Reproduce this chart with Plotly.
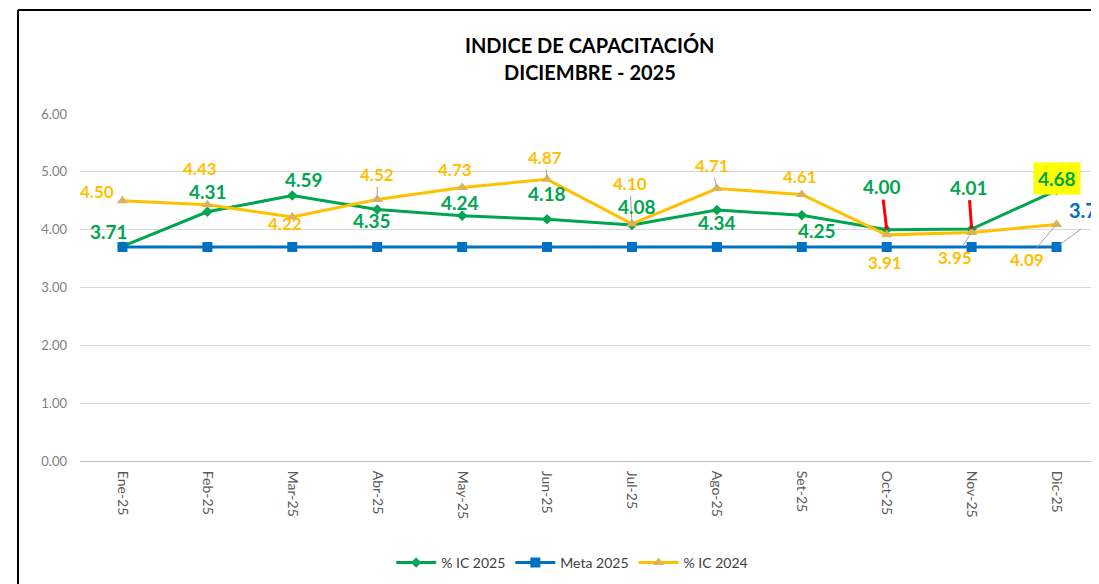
import plotly.graph_objects as go

months = ["Ene-25", "Feb-25", "Mar-25", "Abr-25", "May-25", "Jun-25",
          "Jul-25", "Ago-25", "Set-25", "Oct-25", "Nov-25", "Dic-25"]
ic_2025 = [3.71, 4.31, 4.59, 4.35, 4.24, 4.18, 4.08, 4.34, 4.25, 4.00, 4.01, 4.68]
meta_2025 = [3.7] * 12
ic_2024 = [4.50, 4.43, 4.22, 4.52, 4.73, 4.87, 4.10, 4.71, 4.61, 3.91, 3.95, 4.09]
y_ticks = [0, 1, 2, 3, 4, 5, 6]

GREEN = "#00A550"
BLUE = "#0070C0"
YELLOW = "#FFC000"
FONT = "Lato"

# label offsets in pixels (style, not data)
g_off = [(-13, -15), (1, -20), (12, -16), (-5, 11), (-2, -13), (0, -26),
         (5, -19), (0, 12), (15, 15), (-5, -43), (-3, -42), (0, -12)]
y_off = [(-25, -9), (-7, -36), (-7, 7), (0, -25), (-7, -18), (-2, -22),
         (-2, -40), (-5, -23), (-2, -18), (-2, 28), (-17, 25), (-30, 35)]
y_lead = [False, False, False, True, False, True, True, True, False, False, True, True]

# page offset of the figure (browser body margin)
OFF = 8
W, H = 1099 - OFF, 584 - OFF
L, R, T, B = 80 - OFF, 0, 114 - OFF, 123

fig = go.Figure()
fig.add_trace(go.Scatter(x=months, y=ic_2025, name="% IC 2025", mode="lines+markers",
                         line=dict(color=GREEN, width=3),
                         marker=dict(symbol="diamond", size=8, color=GREEN)))
fig.add_trace(go.Scatter(x=months, y=meta_2025, name="Meta 2025", mode="lines+markers",
                         line=dict(color=BLUE, width=3),
                         marker=dict(symbol="square", size=10, color=BLUE)))
fig.add_trace(go.Scatter(x=months, y=ic_2024, name="% IC 2024", mode="lines+markers",
                         line=dict(color=YELLOW, width=3),
                         marker=dict(symbol="triangle-up", size=10, color="#D9B25A")))

ann = []
for i, (m, v) in enumerate(zip(months, ic_2024)):
    dx, dy = y_off[i]
    ann.append(dict(x=m, y=v, text=f"{v:.2f}", showarrow=y_lead[i],
                    ax=dx, ay=dy, xshift=0 if y_lead[i] else dx, yshift=0 if y_lead[i] else -dy,
                    arrowhead=0, arrowwidth=1, arrowcolor="#A0A0A0", standoff=2,
                    font=dict(family=FONT, size=17, color=YELLOW, weight="bold")))
for i, (m, v) in enumerate(zip(months, ic_2025)):
    dx, dy = g_off[i]
    red = i in (9, 10)
    extra = {}
    if i == 11:
        extra = dict(bgcolor="#FFFF00", borderpad=4)
    ann.append(dict(x=m, y=v, text=f"{v:.2f}", showarrow=red,
                    ax=dx, ay=dy, xshift=0 if red else dx, yshift=0 if red else -dy,
                    arrowhead=0, arrowwidth=3, arrowcolor="#FF0000", standoff=0,
                    font=dict(family=FONT, size=19, color=GREEN, weight="bold"), **extra))
# Meta label (last point only) with a thin grey leader
ann.append(dict(x=months[-1], y=meta_2025[-1], text="", showarrow=True,
                ax=26, ay=-19, arrowhead=0, arrowwidth=1, arrowcolor="#A0A0A0", standoff=4))
ann.append(dict(x=months[-1], y=meta_2025[-1], text=f"{meta_2025[-1]:.2f}", showarrow=False,
                xshift=10, yshift=37, xanchor="left",
                font=dict(family=FONT, size=20, color=BLUE, weight="bold")))

pw = W - L - R
ph = H - T - B
def px(x):
    return (x - OFF - L) / pw
def py(y):
    return (H - B - (y - OFF)) / ph

# Title
ann.append(dict(xref="paper", yref="paper", x=0.5, y=py(45),
                text="INDICE DE CAPACITACIÓN", showarrow=False, yanchor="middle",
                font=dict(family=FONT, size=20, color="black", weight="bold")))
ann.append(dict(xref="paper", yref="paper", x=0.5, y=py(72),
                text="DICIEMBRE - 2025", showarrow=False, yanchor="middle",
                font=dict(family=FONT, size=20, color="black", weight="bold")))

shapes = [
    dict(type="line", xref="paper", yref="paper", x0=px(18), x1=px(18), y0=py(10), y1=py(600),
         line=dict(color="black", width=2)),
    dict(type="line", xref="paper", yref="paper", x0=px(18), x1=px(1110), y0=py(10), y1=py(10),
         line=dict(color="black", width=2)),
]

fig.update_layout(
    width=W, height=H,
    margin=dict(l=L, r=R, t=T, b=B, autoexpand=False),
    paper_bgcolor="white", plot_bgcolor="white",
    font=dict(family=FONT, color="#595959"),
    annotations=ann, shapes=shapes,
    showlegend=True,
    legend=dict(orientation="h", x=0.483, xanchor="center", y=py(563), yanchor="middle",
                font=dict(family=FONT, size=14, color="#404040"), itemwidth=40),
    xaxis=dict(type="category", range=[-0.5, 11.5], tickangle=90, showgrid=False,
               showline=True, linecolor="#BFBFBF", linewidth=1, ticks="", automargin=False,
               tickfont=dict(family=FONT, size=14, color="#595959"), ticklabelstandoff=6),
    yaxis=dict(range=[0, 6], tickvals=y_ticks, ticktext=[f"{t:.2f}" for t in y_ticks],
               showgrid=True, gridcolor="#D9D9D9", gridwidth=1, zeroline=False, automargin=False,
               tickfont=dict(family=FONT, size=13, color="#7F7F7F"), ticklabelstandoff=12),
)

fig.write_html("out.html")
